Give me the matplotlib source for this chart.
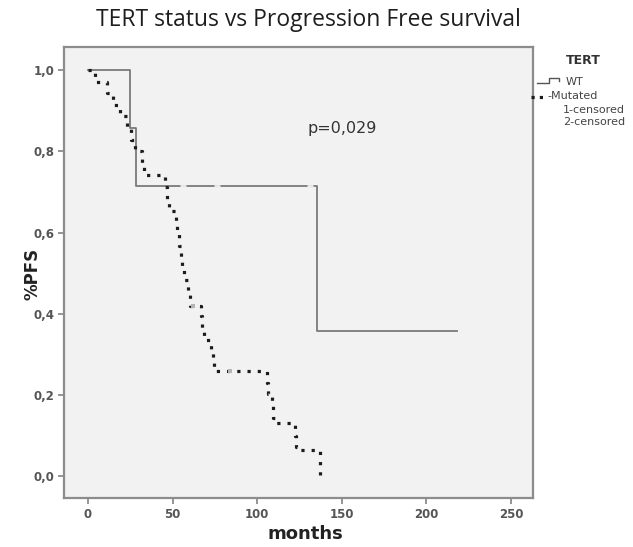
import matplotlib
matplotlib.use("Agg")
import matplotlib.pyplot as plt
from matplotlib.lines import Line2D
from matplotlib.ticker import FuncFormatter

# Kaplan-Meier curves (months, %PFS after the drop)
wt_t = [0, 24.9, 28.4, 135.5, 218]
wt_s = [1.0, 0.857, 0.714, 0.357, 0.357]
wt_cens_t = [56, 76, 131]
wt_cens_s = [0.714, 0.714, 0.714]

mut_t = [0, 4, 11, 15, 19, 23, 25.5, 28, 32, 33,
         45.5, 46.7, 48, 52, 52.7, 54, 55, 55.6, 57, 59, 60.5,
         67, 67.3, 68.6, 72.8, 74, 74.6,
         106, 106.5, 109, 109.5, 110.6, 122.5, 123, 124, 137]
mut_s = [1.0, 0.971, 0.943, 0.914, 0.886, 0.857, 0.829, 0.80, 0.771, 0.741,
         0.712, 0.682, 0.653, 0.626, 0.596, 0.567, 0.537, 0.51, 0.483, 0.453, 0.418,
         0.394, 0.365, 0.335, 0.31, 0.286, 0.259,
         0.229, 0.202, 0.172, 0.143, 0.13, 0.098, 0.071, 0.064, 0.0]
mut_cens_t = [62, 84]
mut_cens_s = [0.418, 0.259]

x_ticks = [0, 50, 100, 150, 200, 250]
y_ticks = [0.0, 0.2, 0.4, 0.6, 0.8, 1.0]

W, H = 633, 547


def fx(x):
    return x / W


def fy(y):
    return 1 - y / H


fig = plt.figure(figsize=(W / 100, H / 100), dpi=100)
ax = fig.add_axes([fx(64), fy(498), (533 - 64) / W, (498 - 47) / H])
ax.set_facecolor("#f2f2f2")

frame_col = "#8c8c8c"
for sp in ax.spines.values():
    sp.set_color(frame_col)
    sp.set_linewidth(1.6)

# WT curve
ax.plot(wt_t, wt_s, drawstyle="steps-post", color="#7a7a7a", lw=1.3, zorder=3)
ax.plot(wt_cens_t, wt_cens_s, ls="none", marker="_", ms=5, mew=2,
        color="#ededed", zorder=4)

# Mutated curve (dotted)
ax.plot(mut_t, mut_s, drawstyle="steps-post", color="#1c1c1c", lw=2.3,
        ls=(0, (1, 2.2)), dash_capstyle="butt", zorder=5)
ax.plot(mut_cens_t, mut_cens_s, ls="none", marker="s", ms=2.5,
        color="#b5b5b5", mew=0, zorder=6)

ax.set_xlim(-14.2, 263)
ax.set_ylim(-0.054, 1.057)
ax.set_xticks(x_ticks)
ax.set_yticks(y_ticks)
ax.yaxis.set_major_formatter(FuncFormatter(lambda v, p: f"{v:.1f}".replace(".", ",")))
ax.tick_params(direction="out", length=4, width=1.3, color=frame_col,
               labelsize=8.5, labelcolor="#555555", pad=3)
for lab in ax.get_xticklabels() + ax.get_yticklabels():
    lab.set_fontweight("bold")

ax.text(150, 0.855, "p=0,029", fontsize=11.5, color="#333333",
        ha="center", va="center")

fig.text(fx(308), fy(20), "TERT status vs Progression Free survival",
         ha="center", va="center", fontsize=16.5, color="#1e1e1e",
         family="Open Sans")
fig.text(fx(305), fy(534), "months", ha="center", va="center",
         fontsize=13, fontweight="bold", color="#222222")
fig.text(fx(33), fy(274), "%PFS", ha="center", va="center", rotation=90,
         fontsize=12, fontweight="bold", color="#222222")

# legend drawn by hand on the right
fig.text(fx(583), fy(61), "TERT", ha="center", va="center",
         fontsize=9, fontweight="bold", color="#333333")
fig.add_artist(Line2D([fx(537), fx(549), fx(549), fx(559), fx(559)],
                      [fy(83), fy(83), fy(78), fy(78), fy(81)],
                      color="#555555", lw=1.0))
fig.text(fx(566), fy(82), "WT", ha="left", va="center", fontsize=8,
         color="#444444")
fig.add_artist(Line2D([fx(531), fx(547)], [fy(97), fy(97)], color="#1c1c1c",
                      lw=2.3, ls=(0, (1, 1.6)), dash_capstyle="butt"))
fig.text(fx(547), fy(96), "-Mutated", ha="left", va="center", fontsize=8,
         color="#444444")
fig.text(fx(563), fy(110), "1-censored", ha="left", va="center", fontsize=8,
         color="#444444")
fig.text(fx(563), fy(122), "2-censored", ha="left", va="center", fontsize=8,
         color="#444444")

fig.savefig("out.png", dpi=100)
